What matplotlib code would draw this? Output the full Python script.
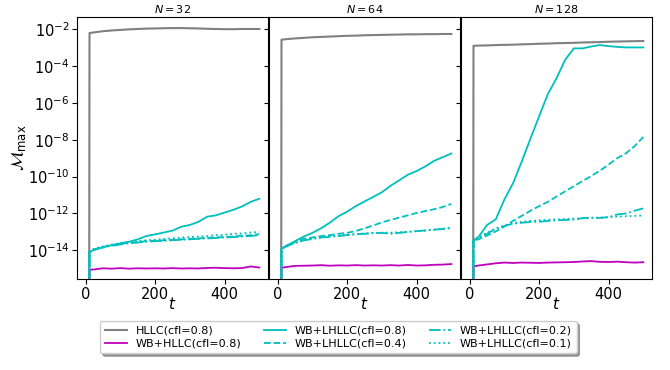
import numpy as np
import matplotlib
matplotlib.use("Agg")
import matplotlib.pyplot as plt
from matplotlib.ticker import NullLocator

# time grid (first point is the start-up value below the plotted range)
T = [10, 11, 25, 50, 75, 100, 125, 150, 175, 200, 225, 250, 275, 300, 325,
     350, 375, 400, 425, 450, 475, 500]

titles = ["$N = 32$", "$N = 64$", "$N = 128$"]

# log10 of M_max, per resolution
# N = 32
n32_hllc = [-18, -2.22, -2.18, -2.12, -2.08, -2.05, -2.02, -2.0, -1.98, -1.97, -1.96,
            -1.95, -1.95, -1.96, -1.97, -1.99, -2.0, -2.01, -2.01, -2.0, -2.0, -2.0]
n32_wbhllc = [-18, -15.05, -15.03, -14.97, -14.99, -14.96, -14.99, -14.97, -14.98, -14.97, -14.98,
              -14.96, -14.98, -14.97, -14.98, -14.95, -14.94, -14.96, -14.97, -14.96, -14.87, -14.93]
n32_c08 = [-18, -14.09, -13.95, -13.82, -13.72, -13.62, -13.53, -13.40, -13.22, -13.13, -13.03,
           -12.93, -12.72, -12.62, -12.45, -12.17, -12.10, -11.95, -11.80, -11.62, -11.37, -11.2]
n32_c04 = [-18, -14.1, -13.95, -13.82, -13.72, -13.65, -13.58, -13.55, -13.5, -13.48, -13.45,
           -13.43, -13.4, -13.38, -13.35, -13.32, -13.3, -13.27, -13.25, -13.2, -13.18, -13.12]
n32_c02 = [-18, -14.1, -13.97, -13.84, -13.75, -13.68, -13.62, -13.57, -13.53, -13.5, -13.48,
           -13.45, -13.42, -13.4, -13.37, -13.35, -13.33, -13.3, -13.28, -13.25, -13.22, -13.17]
n32_c01 = [-18, -14.05, -13.9, -13.78, -13.68, -13.6, -13.55, -13.5, -13.45, -13.42, -13.38,
           -13.35, -13.3, -13.28, -13.25, -13.22, -13.18, -13.15, -13.1, -13.08, -13.03, -13.0]

# N = 64
n64_hllc = [-18, -2.58, -2.55, -2.51, -2.48, -2.45, -2.43, -2.41, -2.39, -2.37, -2.36,
            -2.34, -2.33, -2.32, -2.31, -2.3, -2.29, -2.29, -2.28, -2.28, -2.27, -2.27]
n64_wbhllc = [-18, -14.94, -14.9, -14.84, -14.83, -14.82, -14.80, -14.83, -14.81, -14.82, -14.80,
              -14.82, -14.81, -14.82, -14.80, -14.82, -14.79, -14.82, -14.81, -14.78, -14.77, -14.74]
n64_c08 = [-18, -13.91, -13.75, -13.5, -13.25, -13.05, -12.8, -12.5, -12.15, -11.9, -11.6,
           -11.35, -11.1, -10.85, -10.5, -10.2, -9.9, -9.7, -9.45, -9.15, -8.95, -8.75]
n64_c04 = [-18, -13.91, -13.75, -13.55, -13.37, -13.3, -13.22, -13.17, -13.1, -13.05, -12.95,
           -12.8, -12.65, -12.48, -12.35, -12.22, -12.1, -11.97, -11.87, -11.77, -11.65, -11.48]
n64_c02 = [-18, -13.91, -13.78, -13.6, -13.46, -13.38, -13.3, -13.26, -13.22, -13.17, -13.12,
           -13.1, -13.07, -13.05, -13.1, -13.05, -13.0, -12.96, -12.92, -12.88, -12.84, -12.78]
n64_c01 = [-18, -13.91, -13.76, -13.58, -13.45, -13.36, -13.3, -13.25, -13.2, -13.17, -13.12,
           -13.08, -13.05, -13.04, -13.04, -13.02, -12.99, -12.95, -12.92, -12.88, -12.83, -12.79]

# N = 128
n128_hllc = [-18, -2.91, -2.90, -2.89, -2.87, -2.86, -2.85, -2.83, -2.82, -2.80, -2.79,
             -2.77, -2.76, -2.75, -2.73, -2.72, -2.71, -2.69, -2.68, -2.67, -2.66, -2.65]
n128_wbhllc = [-18, -14.87, -14.82, -14.76, -14.70, -14.66, -14.68, -14.66, -14.67, -14.68, -14.66,
               -14.65, -14.64, -14.63, -14.6, -14.58, -14.62, -14.63, -14.61, -14.64, -14.66, -14.64]
n128_c08 = [-18, -13.46, -13.28, -12.62, -12.32, -11.24, -10.35, -9.18, -7.94, -6.73, -5.53,
            -4.67, -3.67, -3.05, -3.05, -2.95, -2.87, -2.93, -2.97, -3.0, -3.0, -3.0]
n128_c04 = [-18, -13.46, -13.4, -13.2, -12.97, -12.7, -12.4, -12.13, -11.85, -11.6, -11.37,
            -11.08, -10.8, -10.52, -10.24, -9.97, -9.68, -9.35, -9.0, -8.74, -8.35, -7.85]
n128_c02 = [-18, -13.46, -13.3, -13.1, -12.82, -12.68, -12.55, -12.5, -12.46, -12.45, -12.4,
            -12.37, -12.35, -12.33, -12.25, -12.22, -12.24, -12.2, -12.05, -12.0, -11.85, -11.72]
n128_c01 = [-18, -13.46, -13.3, -13.05, -12.82, -12.65, -12.52, -12.45, -12.4, -12.37, -12.34,
            -12.32, -12.3, -12.28, -12.26, -12.24, -12.22, -12.19, -12.17, -12.15, -12.13, -12.11]

labels = ["HLLC(cfl=0.8)", "WB+HLLC(cfl=0.8)", "WB+LHLLC(cfl=0.8)",
          "WB+LHLLC(cfl=0.4)", "WB+LHLLC(cfl=0.2)", "WB+LHLLC(cfl=0.1)"]
colors = ["gray", "m", "c", "c", "c", "c"]
styles = ["-", "-", "-", "--", "-.", ":"]
widths = [1.5, 1.3, 1.3, 1.3, 1.3, 1.3]

panels = [
    [n32_hllc, n32_wbhllc, n32_c08, n32_c04, n32_c02, n32_c01],
    [n64_hllc, n64_wbhllc, n64_c08, n64_c04, n64_c02, n64_c01],
    [n128_hllc, n128_wbhllc, n128_c08, n128_c04, n128_c02, n128_c01],
]

fig = plt.figure(figsize=(6.7, 3.7), dpi=100)
lefts = [77 / 670, 269 / 670, 461 / 670]
w = 191 / 670
bottom = 1 - 279 / 370
h = 262 / 370
axes = []
t = np.array(T)
for i, (series, title) in enumerate(zip(panels, titles)):
    ax = fig.add_axes([lefts[i], bottom, w, h], sharey=axes[0] if axes else None)
    axes.append(ax)
    for s, lab, c, ls, lw in zip(series, labels, colors, styles, widths):
        ax.plot(t, 10.0 ** np.array(s), color=c, ls=ls, lw=lw, label=lab)
    ax.set_yscale("log")
    ax.set_xlim(-25, 525)
    ax.set_xticks([0, 200, 400])
    ax.set_title(title, fontsize=8, pad=3)
    ax.set_xlabel("$t$", fontsize=11, labelpad=-4)
    ax.tick_params(labelsize=10.5, pad=2)
    if i > 0:
        ax.tick_params(labelleft=False)

ax0 = axes[0]
ax0.set_ylim(10 ** -15.55, 10 ** -1.35)
ax0.set_yticks([10.0 ** k for k in range(-14, -1, 2)])
ax0.yaxis.set_minor_locator(NullLocator())
ax0.set_ylabel(r"$\mathcal{M}_{\max}$", fontsize=12, labelpad=0)

handles, labs = ax0.get_legend_handles_labels()
fig.legend(handles, labs, ncol=3, loc="lower center", bbox_to_anchor=(0.505, 0.03),
           fontsize=8, shadow=True, columnspacing=2.0, handlelength=2.0,
           labelspacing=0.3, borderpad=0.4)

fig.savefig("out.png", dpi=100)
